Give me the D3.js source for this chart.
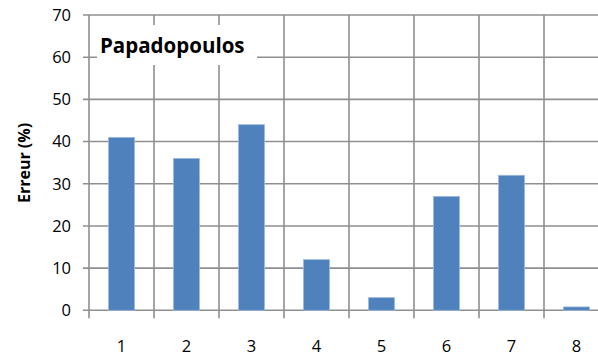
<!DOCTYPE html>
<html>
<head>
<meta charset="utf-8">
<script src="https://cdn.jsdelivr.net/npm/d3@7"></script>
<style>
  html, body { margin: 0; padding: 0; background: #fff; }
  svg { display: block; }
  text { font-family: "Open Sans", "Liberation Sans", sans-serif; fill: #000; }
</style>
</head>
<body>
<svg id="chart" width="598" height="356"></svg>
<script>
// Error per test case
const categories = ["1", "2", "3", "4", "5", "6", "7", "8"];
const errorValues = [41, 36, 44, 12, 3, 27, 32, 0.8];
const yTicks = [0, 10, 20, 30, 40, 50, 60, 70];
const chartTitle = "Papadopoulos";
const yAxisTitle = "Erreur (%)";

const svg = d3.select("#chart");
const gridColor = "#8f8f8f";

const x = d3.scaleBand()
  .domain(categories)
  .range([89, 609])
  .paddingInner(0.6)
  .paddingOuter(0.3);

const y = d3.scaleLinear()
  .domain([0, 70])
  .range([310.3, 15]);

// Horizontal gridlines (extended left as tick marks)
svg.append("g")
  .selectAll("line")
  .data(yTicks)
  .join("line")
  .attr("x1", 83)
  .attr("x2", 609)
  .attr("y1", d => y(d))
  .attr("y2", d => y(d))
  .attr("stroke", gridColor)
  .attr("stroke-width", 1.6);

// Vertical gridlines at category boundaries (extended below as tick marks)
const edges = categories.map((c, i) => x.range()[0] + i * x.step());
svg.append("g")
  .selectAll("line")
  .data(edges)
  .join("line")
  .attr("x1", d => d)
  .attr("x2", d => d)
  .attr("y1", y(70))
  .attr("y2", y(0) + 8)
  .attr("stroke", gridColor)
  .attr("stroke-width", 1.6);

// Bars
svg.append("g")
  .selectAll("rect")
  .data(errorValues)
  .join("rect")
  .attr("x", (d, i) => x(categories[i]))
  .attr("width", x.bandwidth())
  .attr("y", d => y(d))
  .attr("height", d => y(0) - y(d))
  .attr("fill", "#4f81bd")
  .attr("stroke", "#9cb9de")
  .attr("stroke-width", 0.8);

// Y tick labels
svg.append("g")
  .selectAll("text")
  .data(yTicks)
  .join("text")
  .attr("x", 71)
  .attr("y", d => y(d))
  .attr("dy", "0.36em")
  .attr("text-anchor", "end")
  .attr("font-size", 16.5)
  .text(d => d);

// X tick labels
svg.append("g")
  .selectAll("text")
  .data(categories)
  .join("text")
  .attr("x", d => x(d) + x.bandwidth() / 2)
  .attr("y", 352)
  .attr("text-anchor", "middle")
  .attr("font-size", 16.5)
  .text(d => d);

// Y axis title
svg.append("text")
  .attr("transform", "translate(30,163) rotate(-90)")
  .attr("text-anchor", "middle")
  .attr("font-size", 16)
  .attr("font-weight", "bold")
  .text(yAxisTitle);

// Chart title in a white box over the grid
svg.append("rect")
  .attr("x", 97)
  .attr("y", 25)
  .attr("width", 160)
  .attr("height", 40)
  .attr("fill", "#fff");

svg.append("text")
  .attr("x", 100)
  .attr("y", 53)
  .attr("font-size", 20.5)
  .attr("font-weight", "bold")
  .text(chartTitle);
</script>
</body>
</html>
